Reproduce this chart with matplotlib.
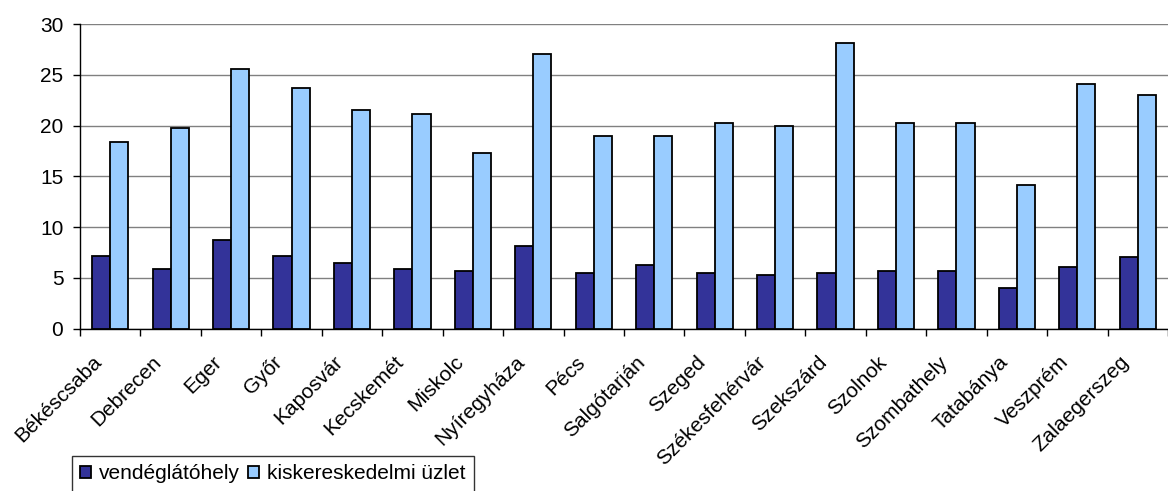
import numpy as np
import matplotlib
matplotlib.use("Agg")
from matplotlib import pyplot as plt
from matplotlib.transforms import ScaledTranslation

plt.rcParams['font.family'] = ['Liberation Sans', 'DejaVu Sans']

cities = ["Békéscsaba", "Debrecen", "Eger", "Győr", "Kaposvár", "Kecskemét",
          "Miskolc", "Nyíregyháza", "Pécs", "Salgótarján", "Szeged",
          "Székesfehérvár", "Szekszárd", "Szolnok", "Szombathely", "Tatabánya",
          "Veszprém", "Zalaegerszeg"]
vendeglatohely = [7.2, 5.9, 8.7, 7.2, 6.5, 5.9, 5.7, 8.1, 5.5, 6.3, 5.5,
                  5.3, 5.5, 5.7, 5.7, 4.0, 6.1, 7.1]
kiskereskedelmi = [18.4, 19.8, 25.6, 23.7, 21.5, 21.1, 17.3, 27.0, 19.0, 19.0, 20.3,
                   20.0, 28.1, 20.3, 20.3, 14.1, 24.1, 23.0]
y_ticks = [0, 5, 10, 15, 20, 25, 30]

fig = plt.figure(figsize=(11.68, 4.91), dpi=100)
ax = fig.add_axes([80 / 1168, 1 - 328.7 / 491, 1 - 80 / 1168, (328.7 - 24) / 491])

x = np.arange(len(cities))
w = 0.3
ax.bar(x - w / 2, vendeglatohely, w, color="#333399", edgecolor="black",
       linewidth=1.3, label="vendéglátóhely", zorder=3)
ax.bar(x + w / 2, kiskereskedelmi, w, color="#99CCFF", edgecolor="black",
       linewidth=1.3, label="kiskereskedelmi üzlet", zorder=3)

ax.set_xlim(-0.5, len(cities) - 0.5)
ax.set_ylim(0, 30)
ax.set_yticks(y_ticks)
ax.yaxis.grid(True, color="#808080", linewidth=1)
ax.set_axisbelow(True)

ax.set_xticks(x)
ax.set_xticks(np.arange(-0.5, len(cities)), minor=True)
ax.tick_params(axis="x", which="major", length=0, pad=22, labelsize=15)
ax.tick_params(axis="x", which="minor", length=5, width=1, direction="out")
ax.tick_params(axis="y", length=5, width=1, pad=7, labelsize=15)
ax.set_xticklabels(cities, rotation=45, ha="right", va="center",
                   rotation_mode="anchor")
# move labels left so they end just left of the bar pair (after tick_params!)
shift = ScaledTranslation(-12 / 100, 0, fig.dpi_scale_trans)
for tick in ax.xaxis.get_major_ticks():
    tick.label1.set_transform(tick.label1.get_transform() + shift)

for s in ["top", "right"]:
    ax.spines[s].set_visible(False)
for s in ["left", "bottom"]:
    ax.spines[s].set_color("black")
    ax.spines[s].set_linewidth(1)

leg = fig.legend(loc="upper left", bbox_to_anchor=(72 / 1168, 1 - 456 / 491),
                 ncol=2, fontsize=15, frameon=True, fancybox=False,
                 handlelength=0.5, handleheight=0.5, handletextpad=0.4,
                 columnspacing=0.4, borderpad=0.4, borderaxespad=0)
leg.get_frame().set_edgecolor("black")
leg.get_frame().set_linewidth(1)

fig.savefig("out.png", dpi=100)
